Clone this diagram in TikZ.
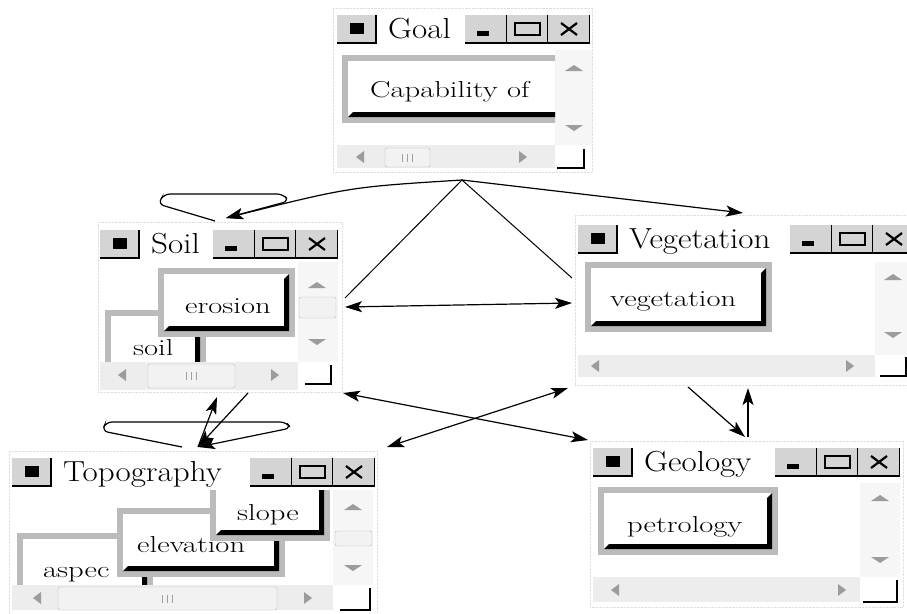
\documentclass[tikz,border=0pt]{standalone}
\usepackage{tikz}
\usetikzlibrary{arrows.meta}

\definecolor{btngray}{HTML}{D4D4D4}
\definecolor{framegray}{HTML}{BBBBBB}
\definecolor{trackgray}{HTML}{EDEDED}
\definecolor{tickgray}{HTML}{9C9C9C}

% raised button: gray face, black edge bottom and right
\newcommand\bevelbtn[4]{%
  \fill[btngray] (#1,#2) rectangle (#3,#4);
  \draw[line width=1.8pt] (#1,#4) -- (#3,#4) -- (#3,#2);
}
% title row of a window: name, x, top y, title, x of the three control buttons
\newcommand\wintitle[5]{%
  \bevelbtn{#2}{#3}{#2+39}{#3+28}
  \fill (#2+13,#3+8) rectangle (#2+27,#3+19);
  \node[titletext] (#1title) at (#2+51,#3+23) {\scalebox{1.14}[1]{#4}};
  \foreach \k in {0,1,2} {\bevelbtn{#5+41.5*\k}{#3}{#5+41.5*\k+41.5}{#3+28}}
  \fill (#5+12,#3+16) rectangle (#5+24,#3+21);
  \draw[line width=2pt] (#5+49.5,#3+8) rectangle (#5+74.5,#3+20);
  \draw[line width=2.2pt] (#5+96,#3+8) -- (#5+112,#3+20) (#5+96,#3+20) -- (#5+112,#3+8);
}
% framed button in a window: name, frame corners, text base point, text
\newcommand\wbutton[8]{%
  \fill[framegray] (#2,#3) rectangle (#4,#5);
  \fill[white] (#2+6,#3+6) rectangle (#4-6,#5-6);
  \fill (#2+6,#5-6) -- (#2+11,#5-11) -- (#4-11,#5-11) -- (#4-11,#3+11) -- (#4-6,#3+6) -- (#4-6,#5-6) -- cycle;
  \node[btntext] (#1) at (#6,#7) {\scalebox{1.33}[1]{#8}};
}
% scroll bar bits
\newcommand\uparr[2]{\fill[tickgray] (#1-9,#2+3) -- (#1,#2-3) -- (#1+9,#2+3) -- cycle;}
\newcommand\dnarr[2]{\fill[tickgray] (#1-9,#2-3) -- (#1,#2+3) -- (#1+9,#2-3) -- cycle;}
\newcommand\ltarr[2]{\fill[tickgray] (#1+4,#2-6) -- (#1-4,#2) -- (#1+4,#2+6) -- cycle;}
\newcommand\rtarr[2]{\fill[tickgray] (#1-4,#2-6) -- (#1+4,#2) -- (#1-4,#2+6) -- cycle;}
\newcommand\hthumb[4]{%
  \filldraw[fill=gray!10, draw=gray!55, rounded corners=2] (#1,#2) rectangle (#3,#4);
  \foreach \d in {-5,0,5} {\draw[gray!75, line width=1pt] ({(#1+#3)/2+\d},{(#2+#4)/2-4}) -- ++(0,8);}
}
\newcommand\vthumb[4]{\filldraw[fill=gray!10, draw=gray!55, rounded corners=2] (#1,#2) rectangle (#3,#4);}
\newcommand\grip[4]{\fill[white] (#1,#2) rectangle (#3,#4); \draw[line width=2pt] (#1,#4) -- (#3,#4) -- (#3,#2);}

\begin{document}
\begin{tikzpicture}[x=1pt, y=-1pt,
  winframe/.style={draw=gray!25, densely dotted, fill=white, inner sep=0, anchor=north west},
  titletext/.style={anchor=base west, inner sep=0, font=\fontsize{29}{29}\selectfont},
  btntext/.style={anchor=base west, inner sep=0, font=\fontsize{23}{23}\selectfont},
  link/.style={-{Stealth[length=17pt,width=11pt,inset=4pt]}, line width=1.2pt},
  link2/.style={{Stealth[length=17pt,width=11pt,inset=4pt]}-{Stealth[length=17pt,width=11pt,inset=4pt]}, line width=1.2pt}]
  \fill[white] (0,0) rectangle (907,613);
  \clip (0,0) rectangle (907,613);

  % Goal window
  \node[winframe, minimum width=259, minimum height=164] (goal) at (333,8) {};
  \wintitle{goal}{337}{15}{Goal}{465}
  \fill[trackgray!50] (555,50) rectangle (592,145);   % vertical scroll bar
  \uparr{574}{68} \dnarr{574}{128}
  \begin{scope}
    \clip (337,50) rectangle (555,145);
    \wbutton{goalcap}{342}{55}{620}{123}{370}{97}{Capability of}
  \end{scope}
  \fill[trackgray] (337,145) rectangle (555,168);   % horizontal scroll bar
  \ltarr{360}{157} \hthumb{385}{148}{430}{167} \rtarr{523}{157}
  \grip{557}{149}{584}{168}

  % Soil window
  \node[winframe, minimum width=244, minimum height=170] (soil) at (98,222) {};
  \wintitle{soil}{100}{230}{Soil}{213}
  \fill[trackgray!50] (298,262) rectangle (338,362);
  \uparr{317}{285} \vthumb{299}{297}{336}{318} \dnarr{317}{342}
  \begin{scope}
    \clip (100,262) rectangle (298,362);
    \wbutton{soilsoil}{105}{310}{206}{390}{133}{355}{soil}
    \wbutton{soilerosion}{158}{268}{295}{337}{185}{313}{erosion}
  \end{scope}
  \fill[trackgray] (100,362) rectangle (298,390);
  \ltarr{122}{375} \hthumb{148}{364}{235}{388} \rtarr{275}{375}
  \grip{305}{365}{331}{384}

  % Vegetation window
  \node[winframe, minimum width=340, minimum height=170] (veg) at (575,215) {};
  \wintitle{veg}{578}{225}{Vegetation}{790}
  \fill[trackgray!50] (875,262) rectangle (915,355);
  \uparr{893}{277} \dnarr{893}{335}
  \wbutton{vegveg}{585}{262}{772}{332}{610}{306}{vegetation}
  \fill[trackgray] (578,355) rectangle (875,377);
  \ltarr{595}{366} \rtarr{850}{366}
  \grip{880}{357}{906}{376}

  % Topography window
  \node[winframe, minimum width=368, minimum height=163] (topo) at (9,451) {};
  \wintitle{topo}{12}{458}{Topography}{250}
  \fill[trackgray!50] (333,490) rectangle (373,585);
  \uparr{353}{507} \vthumb{335}{531}{372}{546} \dnarr{353}{568}
  \begin{scope}
    \clip (12,490) rectangle (333,585);
    \wbutton{topoaspec}{17}{533}{153}{620}{43}{577}{aspec}
    \wbutton{topoelev}{117}{508}{285}{577}{137}{552}{elevation}
    \wbutton{toposlope}{210}{478}{330}{541}{237}{520}{slope}
  \end{scope}
  \fill[trackgray] (12,585) rectangle (333,610);
  \ltarr{37}{598} \hthumb{58}{587}{277}{610} \rtarr{308}{598}
  \grip{340}{588}{370}{610}

  % Geology window
  \node[winframe, minimum width=313, minimum height=166] (geo) at (590,441) {};
  \wintitle{geo}{593}{448}{Geology}{775}
  \fill[trackgray!50] (860,483) rectangle (900,577);
  \uparr{880}{498} \dnarr{880}{560}
  \wbutton{geopetro}{598}{487}{778}{555}{627}{532}{petrology}
  \fill[trackgray] (593,577) rectangle (860,602);
  \ltarr{615}{590} \rtarr{842}{590}
  \grip{863}{580}{897}{602}

  % ends of the links
  \coordinate (hub) at (462,180);
  \coordinate (soilhead) at (226,218);
  \coordinate (veghead) at (743,213);
  \coordinate (soilcut) at (345,298);
  \coordinate (vegcut) at (572,278);
  \coordinate (soilright) at (345,307);
  \coordinate (vegleft) at (572,303);
  \coordinate (soilcorner) at (343,393);
  \coordinate (geocorner) at (588,440);
  \coordinate (topocorner) at (387,447);
  \coordinate (vegcorner) at (568,388);
  \coordinate (topotop) at (198,447);
  \coordinate (soilfoot) at (217,397);
  \coordinate (soilfoot2) at (248,393);
  \coordinate (vegfoot) at (688,387);
  \coordinate (geotop) at (745,437);
  \coordinate (geotop2) at (748,437);
  \coordinate (vegfoot2) at (748,388);

  % links
  \draw[link] (hub) .. controls (350,187) .. (soilhead);   % goal to soil
  \draw[link] (hub) -- (veghead);                          % goal to vegetation
  \draw[line width=1pt] (hub) -- (soilcut);
  \draw[line width=1pt] (hub) -- (vegcut);
  \draw[link, rounded corners=6] (soilhead) ++(-11,3) -- ++(-57,-17) -- ++(6,-10) -- ++(119,0) -- ++(6,7) -- (soilhead);   % soil loop
  \draw[link2] (soilright) -- (vegleft);
  \draw[link2] (soilcorner) -- (geocorner);
  \draw[link2] (topocorner) -- (vegcorner);
  \draw[link, rounded corners=6] (topotop) ++(-16,0) -- ++(-80,-16) -- ++(4,-9) -- ++(180,0) -- ++(5,6) -- (topotop);   % topography loop
  \draw[link] (soilfoot2) -- (topotop);
  \draw[link] (topotop) -- (soilfoot);
  \draw[link] (vegfoot) -- (geotop);
  \draw[link] (geotop2) -- (vegfoot2);
\end{tikzpicture}
\end{document}
